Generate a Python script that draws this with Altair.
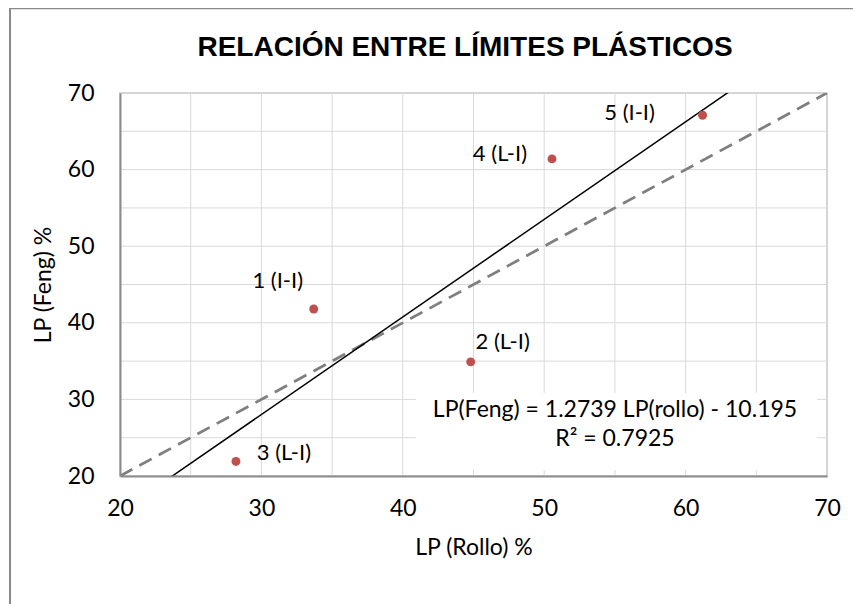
import altair as alt
import pandas as pd

# ---- data ----
rollo = [33.7, 44.8, 28.2, 50.55, 61.2]
feng = [41.8, 34.9, 21.9, 61.4, 67.1]
point_labels = ["1 (I-I)", "2 (L-I)", "3 (L-I)", "4 (L-I)", "5 (I-I)"]

tick_values = [20, 30, 40, 50, 60, 70]
grid_values = [25, 30, 35, 40, 45, 50, 55, 60, 65]

trend_slope = 1.2739
trend_intercept = -10.195
line_ends = [20, 70]

title_text = "RELACIÓN ENTRE LÍMITES PLÁSTICOS"
x_title = "LP (Rollo) %"
y_title = "LP (Feng) %"
eq_line1 = "LP(Feng) = 1.2739 LP(rollo) - 10.195"
eq_line2 = "R² = 0.7925"

# label offsets (pixels) as in the reference
label_offsets = [(-36, -28), (32, -20), (48, -8), (-52, -5), (-73, -2)]

FONT = "Lato"
FS = 23
W, H = 707, 383

xs = alt.Scale(domain=[20, 70], nice=False, zero=False)
ys = alt.Scale(domain=[20, 70], nice=False, zero=False)

axis_common = dict(
    values=tick_values,
    grid=False,
    ticks=False,
    domainColor="#8c8c8c",
    domainWidth=2,
    labelFont=FONT,
    labelFontSize=FS,
    labelColor="black",
    labelFlush=False,
    labelOverlap=False,
    titleFont=FONT,
    titleFontSize=FS,
    titleFontWeight="normal",
    titleColor="black",
    zindex=1,
)
xaxis = alt.Axis(labelPadding=21, titlePadding=16, **axis_common)
yaxis = alt.Axis(labelPadding=26, titlePadding=12, **axis_common)


def X(field):
    return alt.X(field, scale=xs, axis=xaxis, title=x_title)


def Y(field):
    return alt.Y(field, scale=ys, axis=yaxis, title=y_title)


pts = pd.DataFrame({"rollo": rollo, "feng": feng, "lab": point_labels})
grid_df = pd.DataFrame({"g": grid_values})
ends_df = pd.DataFrame({"x": line_ends})

one = alt.Data(values=[{}])

vgrid = alt.Chart(grid_df).mark_rule(color="#d9d9d9", strokeWidth=1).encode(
    x=X("g:Q")
)
hgrid = alt.Chart(grid_df).mark_rule(color="#d9d9d9", strokeWidth=1).encode(
    y=Y("g:Q")
)

identity = alt.Chart(ends_df).mark_line(
    color="#7f7f7f", strokeWidth=2.75, strokeDash=[14, 8], clip=True
).encode(x=X("x:Q"), y=Y("x:Q"))

trend = alt.Chart(ends_df).transform_calculate(
    y=f"{trend_slope} * datum.x + ({trend_intercept})"
).mark_line(color="black", strokeWidth=1.5, clip=True).encode(
    x=X("x:Q"), y=Y("y:Q")
)

eq_box = alt.Chart(one).mark_rect(color="white").encode(
    x=alt.value(296), x2=alt.value(697), y=alt.value(300), y2=alt.value(377)
)

points = alt.Chart(pts).mark_circle(color="#c0504d", size=80, opacity=1).encode(
    x=X("rollo:Q"), y=Y("feng:Q")
)

label_layers = []
for i, (dx, dy) in enumerate(label_offsets):
    label_layers.append(
        alt.Chart(pts.iloc[[i]]).mark_text(
            font=FONT, fontSize=FS - 1, color="black", align="center",
            baseline="middle", dx=dx, dy=dy
        ).encode(x=X("rollo:Q"), y=Y("feng:Q"), text="lab:N")
    )

eq1 = alt.Chart(one).mark_text(
    font=FONT, fontSize=FS, color="black", align="center", baseline="middle"
).encode(x=alt.value(495), y=alt.value(317), text=alt.value(eq_line1))
eq2 = alt.Chart(one).mark_text(
    font=FONT, fontSize=FS, color="black", align="center", baseline="middle"
).encode(x=alt.value(495), y=alt.value(346), text=alt.value(eq_line2))

title = alt.Chart(one).mark_text(
    font="Liberation Sans", fontSize=28, fontWeight="bold", color="black",
    align="center", baseline="alphabetic"
).encode(x=alt.value(345), y=alt.value(-37), text=alt.value(title_text))

frame_top = alt.Chart(one).mark_rule(color="#8a8a8a", strokeWidth=1.5).encode(
    x=alt.value(-110), x2=alt.value(760), y=alt.value(-84.5)
)
frame_left = alt.Chart(one).mark_rule(color="#8a8a8a", strokeWidth=2).encode(
    x=alt.value(-110), y=alt.value(-85), y2=alt.value(520)
)

chart = alt.layer(
    vgrid, hgrid, eq_box, identity, trend, points, *label_layers,
    eq1, eq2, title, frame_top, frame_left
).properties(
    width=W,
    height=H,
    autosize="none",
    padding={"left": 112, "top": 85, "right": 26, "bottom": 128},
).configure_view(stroke="#c8c8c8", strokeWidth=1.5)

chart.save("out.html", embed_options={"renderer": "svg", "actions": False})
